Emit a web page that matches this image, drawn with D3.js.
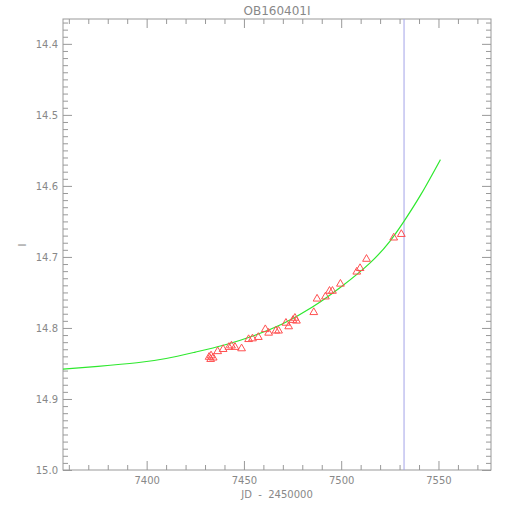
<!DOCTYPE html>
<html>
<head>
<meta charset="utf-8">
<script src="https://cdn.jsdelivr.net/npm/d3@7"></script>
<style>
  body { margin: 0; background: #fff; }
  text { font-family: "DejaVu Sans", sans-serif; fill: #888; }
</style>
</head>
<body>
<div class="chart"></div>
<script>
// model curve
var curveJD  = [7357, 7375, 7395, 7410, 7425, 7440, 7455, 7470, 7485, 7500, 7515, 7525, 7532, 7541, 7551];
var curveMag = [14.858, 14.854, 14.849, 14.843, 14.834, 14.824, 14.811, 14.794, 14.771, 14.742, 14.708, 14.678, 14.651, 14.612, 14.563];

// observed points (triangles)
var obsJD  = [7432.1, 7433.1, 7434.2, 7432.9, 7436.5, 7439.3, 7442.3, 7443.6, 7445.4, 7448.8,
              7452.4, 7454.4, 7457.4, 7461.0, 7462.7, 7466.4, 7467.8, 7471.6, 7473.0, 7475.2,
              7476.2, 7477.0, 7485.9, 7487.6, 7491.9, 7494.0, 7495.5, 7499.6, 7508.0, 7509.7,
              7513.0, 7527.0, 7530.9];
var obsMag = [14.841, 14.839, 14.842, 14.844, 14.833, 14.830, 14.827, 14.825, 14.827, 14.829,
              14.816, 14.815, 14.813, 14.802, 14.807, 14.804, 14.804, 14.793, 14.798, 14.789,
              14.786, 14.790, 14.778, 14.759, 14.756, 14.748, 14.748, 14.738, 14.721, 14.716,
              14.703, 14.673, 14.668];

var markerJD = 7532.3;

var xTicks = [7400, 7450, 7500, 7550];
var yTicks = [14.4, 14.5, 14.6, 14.7, 14.8, 14.9, 15.0];

var W = 510, H = 510;
var mLeft = 63, mRight = 491, mTop = 19, mBottom = 470;
var axisColor = '#999';

var svg = d3.select('.chart').append('svg')
  .attr('width', W)
  .attr('height', H);

var x = d3.scaleLinear().domain([7357, 7577]).range([mLeft, mRight]);
var y = d3.scaleLinear().domain([14.365, 15.0]).range([mTop, mBottom]);

var xMinor = d3.range(7360, 7577, 10).filter(function(d) { return xTicks.indexOf(d) < 0; });
var yMinor = d3.range(1437, 1500).map(function(d) { return d / 100; })
  .filter(function(d, i) { return (i + 7) % 10 !== 0; });

// box
svg.append('rect')
  .attr('x', mLeft).attr('y', mTop)
  .attr('width', mRight - mLeft).attr('height', mBottom - mTop)
  .attr('fill', 'none').attr('stroke', axisColor);

function tickGroup(axis, tx, ty) {
  var g = svg.append('g').attr('transform', 'translate(' + tx + ',' + ty + ')').call(axis);
  g.select('.domain').remove();
  g.selectAll('line').attr('stroke', axisColor);
  g.selectAll('text').attr('fill', '#888').attr('font-size', 10).attr('font-family', null);
  return g;
}

// bottom / top
tickGroup(d3.axisBottom(x).tickValues(xTicks).tickSize(-9).tickPadding(7).tickFormat(d3.format('d')), 0, mBottom);
tickGroup(d3.axisBottom(x).tickValues(xMinor).tickSize(-5).tickFormat(''), 0, mBottom);
tickGroup(d3.axisTop(x).tickValues(xTicks).tickSize(-9).tickFormat(''), 0, mTop);
tickGroup(d3.axisTop(x).tickValues(xMinor).tickSize(-5).tickFormat(''), 0, mTop);

// left / right
tickGroup(d3.axisLeft(y).tickValues(yTicks).tickSize(-9).tickPadding(5).tickFormat(d3.format('.1f')), mLeft, 0);
tickGroup(d3.axisLeft(y).tickValues(yMinor).tickSize(-5).tickFormat(''), mLeft, 0);
tickGroup(d3.axisRight(y).tickValues(yTicks).tickSize(-9).tickFormat(''), mRight, 0);
tickGroup(d3.axisRight(y).tickValues(yMinor).tickSize(-5).tickFormat(''), mRight, 0);

// vertical marker
svg.append('line')
  .attr('x1', x(markerJD)).attr('x2', x(markerJD))
  .attr('y1', mTop).attr('y2', mBottom)
  .attr('stroke', '#a4a4e8');

// model curve
var pts = curveJD.map(function(d, i) { return [d, curveMag[i]]; });
svg.append('path')
  .datum(pts)
  .attr('fill', 'none')
  .attr('stroke', '#2ee82e')
  .attr('stroke-width', 1.2)
  .attr('d', d3.line()
    .x(function(d) { return x(d[0]); })
    .y(function(d) { return y(d[1]); })
    .curve(d3.curveNatural));

// data triangles
var obs = obsJD.map(function(d, i) { return {jd: d, mag: obsMag[i]}; });
svg.selectAll('.obs').data(obs).enter().append('path')
  .attr('class', 'obs')
  .attr('transform', function(d) { return 'translate(' + x(d.jd) + ',' + y(d.mag) + ')'; })
  .attr('d', d3.symbol().type(d3.symbolTriangle).size(26))
  .attr('fill', 'none')
  .attr('stroke', '#ff5050')
  .attr('stroke-width', 1);

// labels
svg.append('text')
  .attr('x', (mLeft + mRight) / 2).attr('y', 15)
  .attr('text-anchor', 'middle')
  .attr('font-size', 12)
  .text('OB160401I');

svg.append('text')
  .attr('x', (mLeft + mRight) / 2).attr('y', 498)
  .attr('text-anchor', 'middle')
  .attr('font-size', 10)
  .style('white-space', 'pre')
  .text('JD  -  2450000');

svg.append('text')
  .attr('transform', 'translate(26,245) rotate(-90)')
  .attr('text-anchor', 'middle')
  .attr('font-size', 10)
  .text('I');
</script>
</body>
</html>
